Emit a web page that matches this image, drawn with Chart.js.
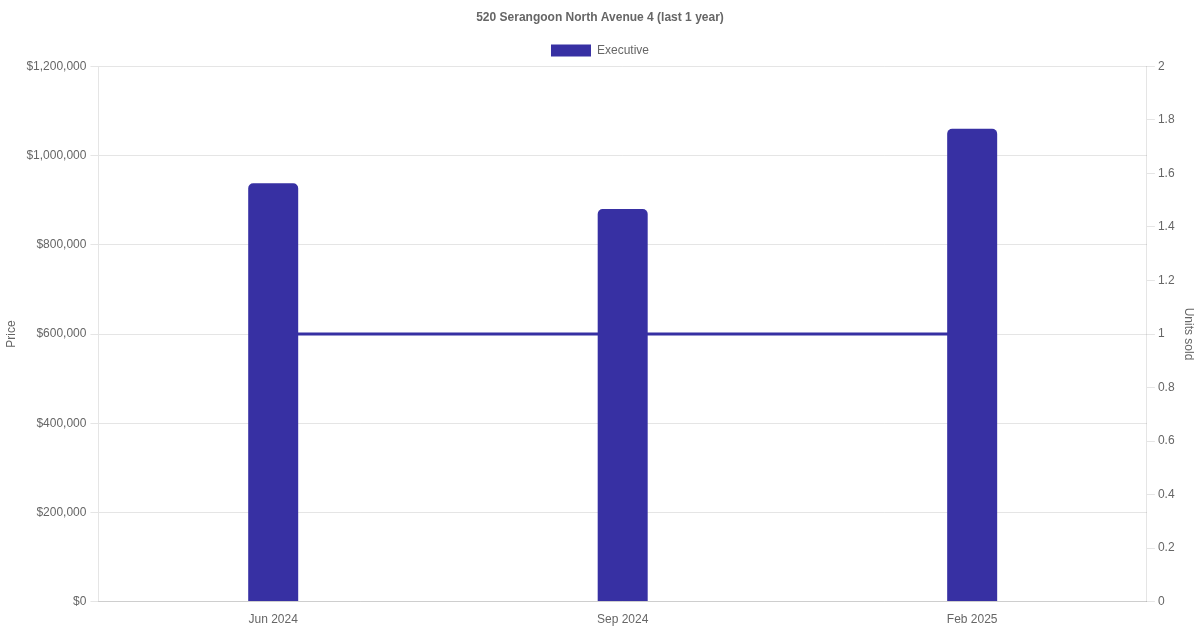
<!DOCTYPE html>
<html>
<head>
<meta charset="utf-8">
<script src="https://cdn.jsdelivr.net/npm/chart.js@4"></script>
<style>
  html, body { margin: 0; padding: 0; background: #fff; }
  #wrap { width: 1200px; height: 630px; }
</style>
</head>
<body>
<div id="wrap"><canvas id="chart"></canvas></div>
<script>
// ── Data ────────────────────────────────────────────────────────────────────
const months = ['Jun 2024', 'Sep 2024', 'Feb 2025'];
const prices = [938000, 880000, 1060000];
const unitsSold = [1, 1, 1];
const flatType = 'Executive';

const barColor = '#3730a3';

// ── Chart ───────────────────────────────────────────────────────────────────
new Chart(document.getElementById('chart'), {
  data: {
    labels: months,
    datasets: [
      {
        type: 'bar',
        label: flatType,
        data: prices,
        backgroundColor: barColor,
        borderColor: barColor,
        borderRadius: 5,
        borderSkipped: 'bottom',
        maxBarThickness: 50,
        yAxisID: 'y'
      },
      {
        type: 'line',
        label: 'Units sold',
        data: unitsSold,
        borderColor: barColor,
        backgroundColor: barColor,
        borderWidth: 3,
        pointRadius: 0,
        yAxisID: 'y1'
      }
    ]
  },
  options: {
    responsive: true,
    maintainAspectRatio: false,
    animation: false,
    plugins: {
      title: {
        display: true,
        text: '520 Serangoon North Avenue 4 (last 1 year)',
        color: '#666',
        font: { size: 12, weight: 'bold' }
      },
      legend: {
        labels: {
          color: '#666',
          filter: item => item.datasetIndex === 0
        }
      }
    },
    scales: {
      x: {
        grid: { display: false },
        ticks: { color: '#666' }
      },
      y: {
        position: 'left',
        min: 0,
        max: 1200000,
        ticks: {
          stepSize: 200000,
          padding: 4,
          color: '#666',
          callback: v => '$' + v.toLocaleString('en-US')
        },
        title: { display: true, text: 'Price', color: '#666' }
      },
      y1: {
        position: 'right',
        min: 0,
        max: 2,
        ticks: {
          stepSize: 0.2,
          color: '#666',
          callback: v => String(Number(v.toFixed(1)))
        },
        grid: { drawOnChartArea: false },
        title: { display: true, text: 'Units sold', color: '#666' }
      }
    }
  }
});
</script>
</body>
</html>
